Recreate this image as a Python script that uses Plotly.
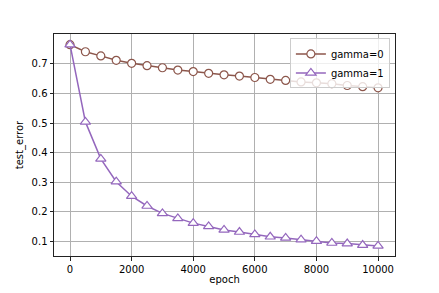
import plotly.graph_objects as go

epochs = [0, 500, 1000, 1500, 2000, 2500, 3000, 3500, 4000, 4500, 5000,
          5500, 6000, 6500, 7000, 7500, 8000, 8500, 9000, 9500, 10000]
gamma0 = [0.765, 0.741, 0.727, 0.712, 0.702, 0.694, 0.687, 0.679, 0.674, 0.668, 0.663,
          0.659, 0.654, 0.648, 0.644, 0.639, 0.636, 0.633, 0.627, 0.623, 0.619]
gamma1 = [0.765, 0.504, 0.379, 0.302, 0.253, 0.220, 0.195, 0.178, 0.162, 0.151, 0.139,
          0.132, 0.124, 0.116, 0.112, 0.106, 0.101, 0.095, 0.093, 0.088, 0.085]
x_ticks = [0, 2000, 4000, 6000, 8000, 10000]
y_ticks = [0.1, 0.2, 0.3, 0.4, 0.5, 0.6, 0.7]

fig = go.Figure()
fig.add_trace(go.Scatter(
    x=epochs, y=gamma0, name="gamma=0", mode="lines+markers",
    line=dict(color="#8c564b", width=1.5),
    marker=dict(symbol="circle", size=8, color="white",
                line=dict(color="#8c564b", width=1.2)),
))
fig.add_trace(go.Scatter(
    x=epochs, y=gamma1, name="gamma=1", mode="lines+markers",
    line=dict(color="#9467bd", width=1.5),
    marker=dict(symbol="triangle-up", size=9, color="white",
                line=dict(color="#9467bd", width=1.2)),
))

axis_common = dict(
    showline=True, linecolor="#222", linewidth=1, mirror=True,
    showgrid=True, gridcolor="#b0b0b0", gridwidth=1,
    ticks="outside", ticklen=3.5, tickcolor="#222", tickwidth=1,
    zeroline=False, automargin=False,
    tickfont=dict(family="DejaVu Sans", size=10, color="black"),
)

# page body has an 8px default margin, so the figure is shrunk to fit
fig.update_layout(
    width=431, height=285,
    margin=dict(l=46, r=44, t=26, b=37),
    paper_bgcolor="white", plot_bgcolor="white",
    font=dict(family="DejaVu Sans", size=10, color="black"),
    xaxis=dict(range=[-520, 10550], tickvals=x_ticks,
               ticktext=[str(v) for v in x_ticks],
               title=dict(text="epoch", standoff=2,
                          font=dict(family="DejaVu Sans", size=10)),
               **axis_common),
    yaxis=dict(range=[0.051, 0.801], tickvals=y_ticks,
               ticktext=[f"{v:.1f}" for v in y_ticks],
               title=dict(text="test_error", standoff=6,
                          font=dict(family="DejaVu Sans", size=10)),
               **axis_common),
    legend=dict(x=0.985, y=0.98, xanchor="right", yanchor="top",
                bgcolor="rgba(255,255,255,0.8)", bordercolor="#ccc",
                borderwidth=1, font=dict(family="DejaVu Sans", size=10),
                itemwidth=30, tracegroupgap=0),
    showlegend=True,
)

fig.write_html("out.html")
